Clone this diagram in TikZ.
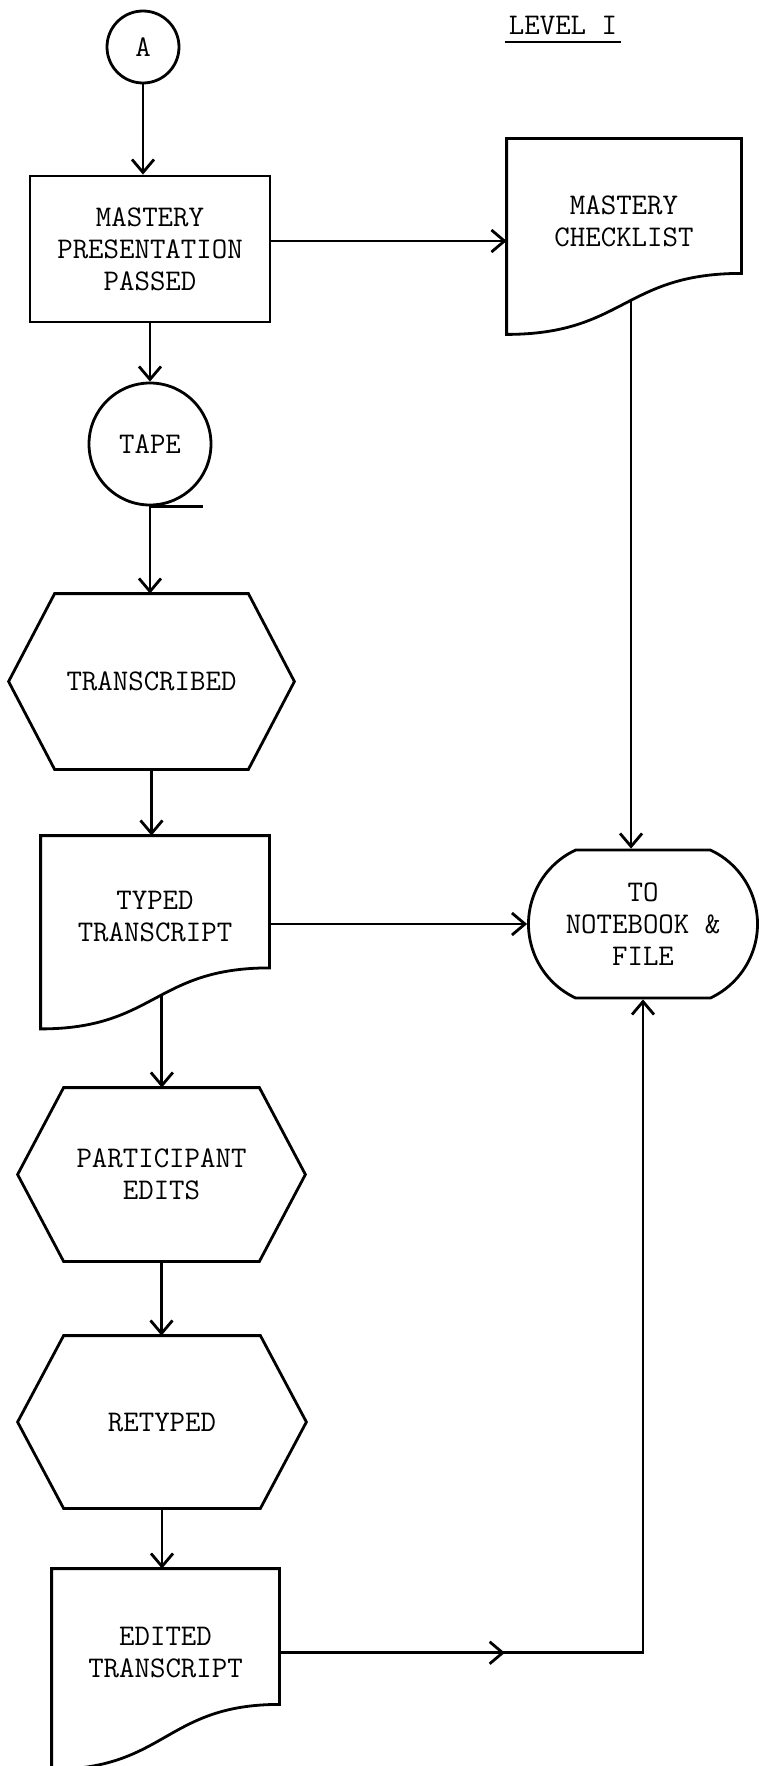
\documentclass[tikz,border=0pt]{standalone}
\usepackage{fontspec}
\usetikzlibrary{arrows.meta,shapes.misc,calc}

\begin{document}
\begin{tikzpicture}[x=1pt,y=-1pt,line width=2.8pt,>={Straight Barb[length=13pt,width=22pt]}]
        \tikzstyle{every node}=[font=\ttfamily\fontsize{30}{32}\selectfont, align=center, inner sep=0pt]
        \tikzstyle{disc}=[circle, draw]
        \tikzstyle{box}=[rectangle, draw]
        \tikzstyle{docu}=[rectangle]
        \tikzstyle{hexa}=[rectangle]
        \tikzstyle{term}=[rounded rectangle, rounded rectangle arc length=130, draw]
        \useasboundingbox (0,0) rectangle (759,1766);
        \node[disc, minimum size=72pt] (a) at (143,47) {A};
        \node[anchor=south, inner xsep=3pt, inner ysep=6pt] (lvl) at (563,42) {LEVEL I};
        \node[box, minimum width=240pt, minimum height=146pt] (mp) at (150,249) {MASTERY\\PRESENTATION\\PASSED};
        \node[docu, minimum width=232pt, minimum height=162.5pt] (chk) at (624,221.25) {MASTERY\\CHECKLIST};
        \node[disc, minimum size=122pt] (tape) at (150,444) {TAPE};
        \node[hexa, minimum width=283pt, minimum height=173pt] (trans) at (151.5,681.5) {TRANSCRIBED};
        \node[docu, minimum width=226pt, minimum height=160pt] (typed) at (155,917) {TYPED\\TRANSCRIPT};
        \node[term, minimum width=229pt, minimum height=148pt] (nb) at (643,924) {TO\\NOTEBOOK \&\\FILE};
        \node[hexa, minimum width=285pt, minimum height=171pt] (part) at (161.5,1174.5) {PARTICIPANT\\EDITS};
        \node[hexa, minimum width=286pt, minimum height=170pt] (ret) at (162,1422) {RETYPED};
        \node[docu, minimum width=225pt, minimum height=165.5pt] (ed) at (165.5,1652.75) {EDITED\\TRANSCRIPT};
        \draw (lvl.south west) -- (lvl.south east);
        \draw (tape.south) -- ++(53,0);
        \foreach \n in {trans,part,ret}
            \draw ([xshift=46pt]\n.north west) -- ([xshift=-46pt]\n.north east) -- (\n.east) -- ([xshift=-46pt]\n.south east) -- ([xshift=46pt]\n.south west) -- (\n.west) -- cycle;
        \foreach \n/\wv in {chk/30.5,typed/30.5,ed/32.5}
            \draw (\n.north west) -- (\n.north east) -- ([yshift=\wv pt]\n.south east) .. controls ([yshift=\wv pt]\n.south) and ([yshift=-\wv pt]\n.south) .. ([yshift=-\wv pt]\n.south west) coordinate[pos=.46] (\n-b) -- cycle;
        \draw[->] (a.south) -- (a.south |- mp.north);
        \draw[->] ([yshift=8pt]mp.east) -- ([yshift=8pt]mp.east -| chk.west);
        \draw[->] (mp.south) -- (mp.south |- tape.north);
        \draw[->] (tape.south) -- (tape.south |- trans.north);
        \draw[->] (trans.south) -- (trans.south |- typed.north);
        \draw[->] (typed-b) -- (typed-b |- part.north);
        \draw[->] (part.south) -- (part.south |- ret.north);
        \draw[->] (ret.south) -- (ret.south |- ed.north);
        \draw[->] (chk-b) -- (chk-b |- nb.north);
        \draw[->] (nb.west -| typed.east) -- (nb.west);
        \coordinate (turn) at (ed.east -| nb.south);
        \draw[->] (ed.east) -- ($(ed.east)!.62!(turn)$);
        \draw[->] (ed.east) -- (turn) -- (nb.south);
\end{tikzpicture}
\end{document}
